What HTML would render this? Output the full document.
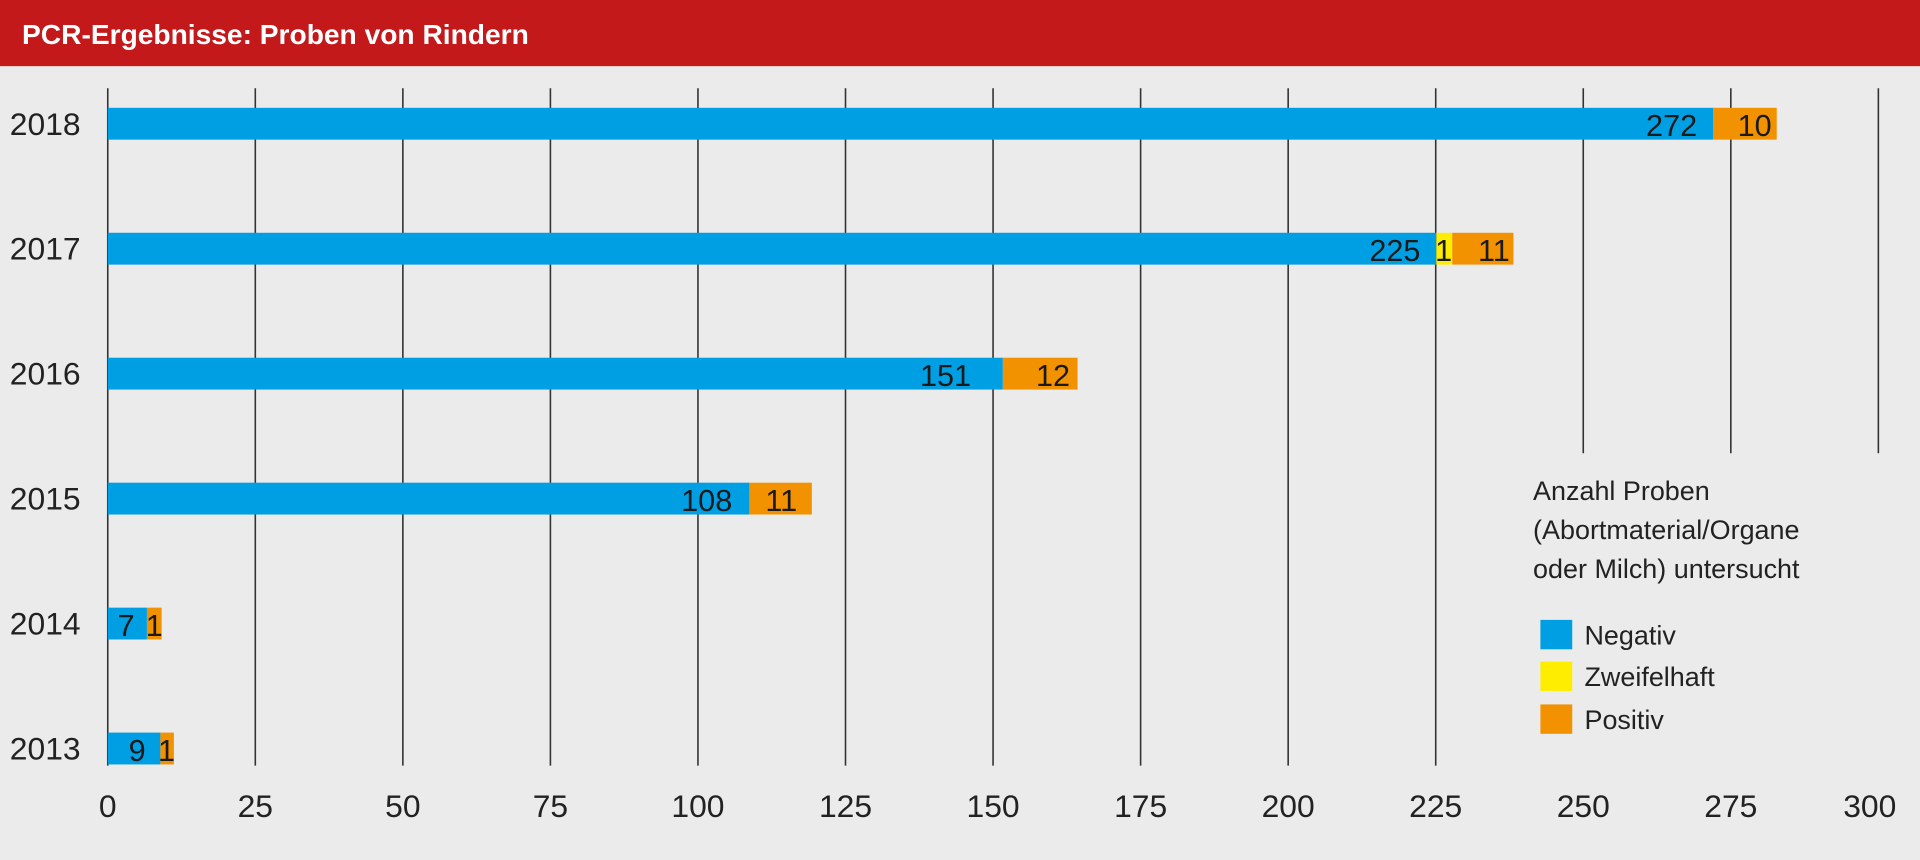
<!DOCTYPE html>
<html><head><meta charset="utf-8"><style>
html,body{margin:0;padding:0;background:#ebebeb;}
svg{display:block;}
text{font-family:"Liberation Sans",sans-serif;}
</style></head><body>
<svg width="1920" height="860" viewBox="0 0 1568 702" preserveAspectRatio="none" xmlns="http://www.w3.org/2000/svg">
<rect x="0" y="0" width="1568" height="702" fill="#ebebeb"/>
<rect x="0" y="0" width="1568" height="54" fill="#c4191b"/>
<text x="18" y="36" font-size="23" font-weight="bold" fill="#fff">PCR-Ergebnisse: Proben von Rindern</text>
<g stroke="#333" stroke-width="1.3">
<line x1="88" y1="72" x2="88" y2="625"/>
<line x1="208.5" y1="72" x2="208.5" y2="625"/>
<line x1="329" y1="72" x2="329" y2="625"/>
<line x1="449.5" y1="72" x2="449.5" y2="625"/>
<line x1="570" y1="72" x2="570" y2="625"/>
<line x1="690.5" y1="72" x2="690.5" y2="625"/>
<line x1="811" y1="72" x2="811" y2="625"/>
<line x1="931.5" y1="72" x2="931.5" y2="625"/>
<line x1="1052" y1="72" x2="1052" y2="625"/>
<line x1="1172.5" y1="72" x2="1172.5" y2="625"/>
<line x1="1293" y1="72" x2="1293" y2="370"/>
<line x1="1413.5" y1="72" x2="1413.5" y2="370"/>
<line x1="1534" y1="72" x2="1534" y2="370"/>
</g>
<g font-size="26" fill="#222" text-anchor="middle">
<text x="88" y="667">0</text><text x="208.5" y="667">25</text><text x="329" y="667">50</text>
<text x="449.5" y="667">75</text><text x="570" y="667">100</text><text x="690.5" y="667">125</text>
<text x="811" y="667">150</text><text x="931.5" y="667">175</text><text x="1052" y="667">200</text>
<text x="1172.5" y="667">225</text><text x="1293" y="667">250</text><text x="1413.5" y="667">275</text>
<text x="1527" y="667">300</text>
</g>
<g font-size="26" fill="#222">
<text x="8" y="110">2018</text><text x="8" y="212">2017</text><text x="8" y="314">2016</text>
<text x="8" y="416">2015</text><text x="8" y="518">2014</text><text x="8" y="620">2013</text>
</g>
<!-- bars -->
<rect x="88" y="88" width="1311" height="26" fill="#009fe3"/>
<rect x="1399" y="88" width="52" height="26" fill="#f39200"/>
<rect x="88" y="190" width="1085" height="26" fill="#009fe3"/>
<rect x="1173" y="190" width="13" height="26" fill="#ffed00"/>
<rect x="1186" y="190" width="50" height="26" fill="#f39200"/>
<rect x="88" y="292" width="731" height="26" fill="#009fe3"/>
<rect x="819" y="292" width="61" height="26" fill="#f39200"/>
<rect x="88" y="394" width="524" height="26" fill="#009fe3"/>
<rect x="612" y="394" width="51" height="26" fill="#f39200"/>
<rect x="88" y="496" width="32" height="26" fill="#009fe3"/>
<rect x="120" y="496" width="12" height="26" fill="#f39200"/>
<rect x="88" y="598" width="43" height="26" fill="#009fe3"/>
<rect x="131" y="598" width="11" height="26" fill="#f39200"/>
<g font-size="25" fill="#1a1a1a">
<text x="1386" y="111" text-anchor="end">272</text><text x="1433" y="111" text-anchor="middle">10</text>
<text x="1160" y="213" text-anchor="end">225</text><text x="1179" y="213" text-anchor="middle">1</text><text x="1220" y="213" text-anchor="middle">11</text>
<text x="793" y="315" text-anchor="end">151</text><text x="860" y="315" text-anchor="middle">12</text>
<text x="598" y="417" text-anchor="end">108</text><text x="638" y="417" text-anchor="middle">11</text>
<text x="103" y="519" text-anchor="middle">7</text><text x="126" y="519" text-anchor="middle">1</text>
<text x="112" y="621" text-anchor="middle">9</text><text x="136" y="621" text-anchor="middle">1</text>
</g>
<!-- legend -->
<g font-size="22" fill="#222">
<text x="1252" y="408">Anzahl Proben</text>
<text x="1252" y="440">(Abortmaterial/Organe</text>
<text x="1252" y="472">oder Milch) untersucht</text>
<rect x="1258" y="506" width="26" height="24" fill="#009fe3"/>
<text x="1294" y="526">Negativ</text>
<rect x="1258" y="540" width="26" height="24" fill="#ffed00"/>
<text x="1294" y="560">Zweifelhaft</text>
<rect x="1258" y="575" width="26" height="24" fill="#f39200"/>
<text x="1294" y="595">Positiv</text>
</g>
</svg>
</body></html>
